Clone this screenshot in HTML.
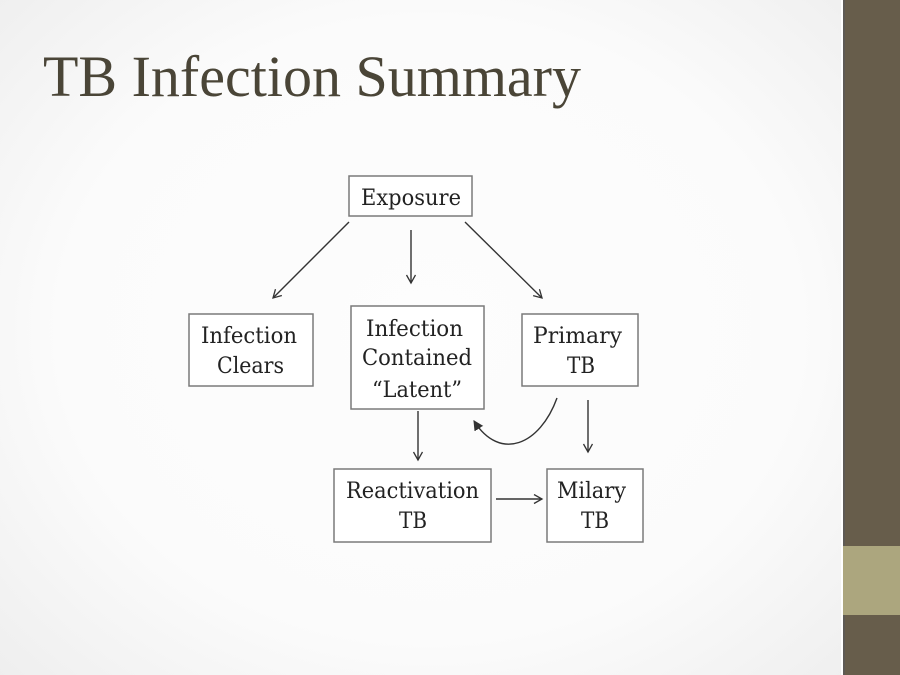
<!DOCTYPE html>
<html>
<head>
<meta charset="utf-8">
<style>
html,body{margin:0;padding:0;}
body{width:900px;height:675px;overflow:hidden;position:relative;
background: radial-gradient(ellipse 620px 520px at 430px 330px, #fdfdfd 0%, #fbfbfb 60%, #ededed 100%);}
svg{position:absolute;left:0;top:0;}
</style>
</head>
<body>
<svg width="900" height="675" viewBox="0 0 900 675" xmlns="http://www.w3.org/2000/svg">
  <defs>
    <marker id="ah" markerWidth="12" markerHeight="12" refX="9" refY="5" orient="auto" markerUnits="userSpaceOnUse">
      <path d="M1,0.5 L9,5 L1,9.5" fill="none" stroke="#333" stroke-width="1.3"/>
    </marker>
    <marker id="ahf" markerWidth="12" markerHeight="12" refX="9" refY="5" orient="auto" markerUnits="userSpaceOnUse">
      <path d="M0,0.5 L9,5 L0,9.5 Z" fill="#333" stroke="#333" stroke-width="1"/>
    </marker>
  </defs>

  <!-- right bar -->
  <rect x="843" y="0" width="57" height="675" fill="#675d4b"/>
  <rect x="841" y="0" width="2" height="675" fill="#ffffff"/>
  <rect x="843" y="0" width="2" height="675" fill="#5e5a55"/>
  <rect x="843" y="546" width="57" height="69" fill="#aca67e"/>

  <!-- title -->
  <text x="43" y="96" font-family="Liberation Serif, serif" font-size="58" fill="#4a4537" textLength="538" lengthAdjust="spacingAndGlyphs">TB Infection Summary</text>

  <g fill="#fff" stroke="#7a7a7a" stroke-width="1.5">
    <rect x="349" y="176" width="123" height="40"/>
    <rect x="189" y="314" width="124" height="72"/>
    <rect x="351" y="306" width="133" height="103"/>
    <rect x="522" y="314" width="116" height="72"/>
    <rect x="334" y="469" width="157" height="73"/>
    <rect x="547" y="469" width="96" height="73"/>
  </g>

  <g font-family="DejaVu Serif, Liberation Serif, serif" font-size="22" fill="#222">
    <text x="361" y="205" textLength="100" lengthAdjust="spacingAndGlyphs">Exposure</text>
    <text x="201" y="343" textLength="96" lengthAdjust="spacingAndGlyphs">Infection</text>
    <text x="217" y="373" textLength="67" lengthAdjust="spacingAndGlyphs">Clears</text>
    <text x="366" y="336" textLength="97" lengthAdjust="spacingAndGlyphs">Infection</text>
    <text x="362" y="365" textLength="110" lengthAdjust="spacingAndGlyphs">Contained</text>
    <text x="372" y="397" textLength="90" lengthAdjust="spacingAndGlyphs">“Latent”</text>
    <text x="533" y="343" textLength="89" lengthAdjust="spacingAndGlyphs">Primary</text>
    <text x="567" y="373" textLength="28" lengthAdjust="spacingAndGlyphs">TB</text>
    <text x="346" y="498" textLength="133" lengthAdjust="spacingAndGlyphs">Reactivation</text>
    <text x="399" y="528" textLength="28" lengthAdjust="spacingAndGlyphs">TB</text>
    <text x="557" y="498" textLength="69" lengthAdjust="spacingAndGlyphs">Milary</text>
    <text x="581" y="528" textLength="28" lengthAdjust="spacingAndGlyphs">TB</text>
  </g>

  <g stroke="#333" stroke-width="1.4" fill="none">
    <line x1="349" y1="222" x2="273" y2="298" marker-end="url(#ah)"/>
    <line x1="411" y1="230" x2="411" y2="283" marker-end="url(#ah)"/>
    <line x1="465" y1="222" x2="542" y2="298" marker-end="url(#ah)"/>
    <line x1="418" y1="411" x2="418" y2="460" marker-end="url(#ah)"/>
    <line x1="588" y1="400" x2="588" y2="452" marker-end="url(#ah)"/>
    <line x1="496" y1="499" x2="542" y2="499" marker-end="url(#ah)"/>
    <path d="M557,398 C540,445 500,462 474,421" marker-end="url(#ahf)"/>
  </g>
</svg>
</body>
</html>
